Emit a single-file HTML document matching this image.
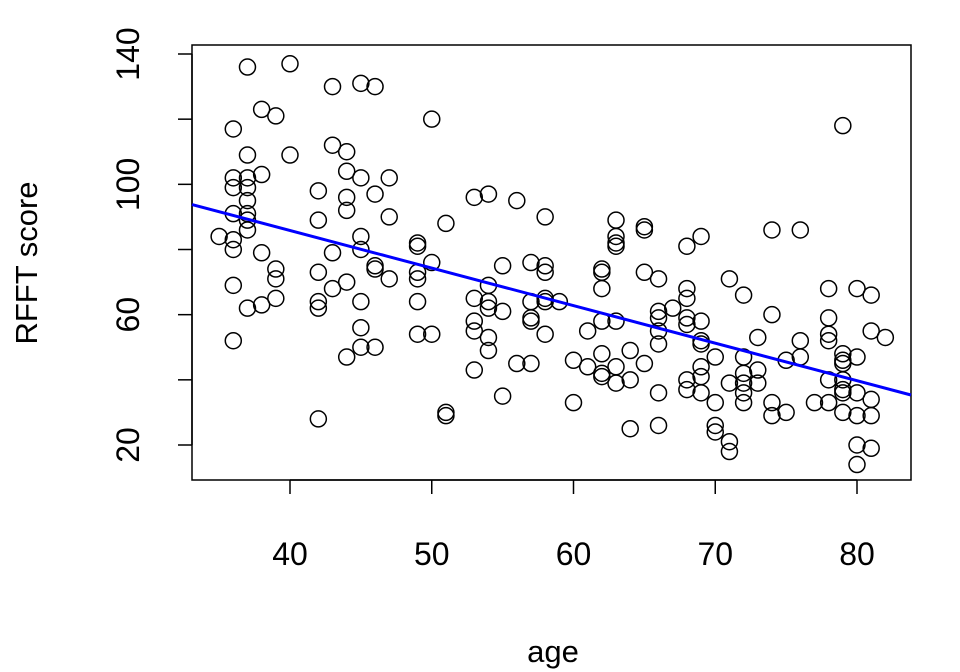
<!DOCTYPE html>
<html>
<head>
<meta charset="utf-8">
<style>
html,body{margin:0;padding:0;background:#fff;}
svg{display:block;font-family:"Liberation Sans",Arial,sans-serif;}
</style>
</head>
<body>
<svg id="chart" width="960" height="672" viewBox="0 0 960 672"></svg>
<script>
// Data: age (x) and RFFT score (y)
const ages = [35,
36,36,36,36,36,36,36,36,
37,37,37,37,37,37,37,37,37,
38,38,38,38,
39,39,39,39,
40,40,
42,42,42,42,42,42,
43,43,43,43,
44,44,44,44,44,44,
45,45,45,45,45,45,45,
46,46,46,46,46,
47,47,47,
49,49,49,49,49,49,
50,50,50,
51,51,51,
53,53,53,53,53,
54,54,54,54,54,54,
55,55,55,
56,56,
57,57,57,57,57,
58,58,58,58,58,58,
59,
60,60,
61,61,
62,62,62,62,62,62,62,
63,63,63,63,63,63,63,
64,64,64,
65,65,65,65,
66,66,66,66,66,66,66,
67,
68,68,68,68,68,68,68,
69,69,69,69,69,69,69,
70,70,70,70,
71,71,71,71,
72,72,72,72,72,72,
73,73,73,
74,74,74,74,
75,75,
76,76,76,
77,
78,78,78,78,78,78,
79,79,79,79,79,79,79,79,
80,80,80,80,80,80,
81,81,81,81,81,
82];
const scores = [84,
117,102,99,91,83,80,69,52,
136,109,102,99,95,91,89,86,62,
123,103,79,63,
121,74,71,65,
137,109,
98,89,73,64,62,28,
130,112,79,68,
110,104,96,92,70,47,
131,102,84,80,64,56,50,
130,97,75,74,50,
102,71,90,
82,81,73,71,64,54,
120,76,54,
88,30,29,
96,65,58,55,43,
97,69,64,62,53,49,
75,61,35,
95,45,
76,64,59,58,45,
90,75,73,65,64,54,
64,
46,33,
55,44,
74,73,68,58,48,42,41,
89,84,82,81,58,44,39,
49,40,25,
87,86,73,45,
71,61,59,55,51,36,26,
62,
81,68,65,59,57,40,37,
84,58,52,51,44,41,36,
47,33,26,24,
71,39,21,18,
66,47,42,39,36,33,
53,43,39,
86,60,33,29,
46,30,
86,52,47,
33,
68,59,54,52,40,33,
118,48,46,45,40,37,36,30,
68,47,36,29,20,14,
66,55,34,29,19,
53];
const xTicks = [40,50,60,70,80];
const yTicks = [20,60,100,140];

const NS = "http://www.w3.org/2000/svg";
const svg = document.getElementById('chart');
const plot = {l:192, r:911, t:45, b:480};
function xScale(v){ return 290 + (v-40)*(857-290)/40; }
function yScale(v){ return 445 - (v-20)*(445-54)/120; }
function mk(tag, attrs){
  const e = document.createElementNS(NS, tag);
  for (const k in attrs) e.setAttribute(k, attrs[k]);
  svg.appendChild(e);
  return e;
}

const box = mk('rect', {x:plot.l, y:plot.t, width:plot.r-plot.l, height:plot.b-plot.t, fill:'none', stroke:'#000', 'stroke-width':1.5});



const xAxis = mk('line', {x1:xScale(xTicks[0]), x2:xScale(xTicks[xTicks.length-1]), y1:plot.b, y2:plot.b, stroke:'#000', 'stroke-width':1.5});


xTicks.forEach(t=>{
  const x = xScale(t);
  const tk = mk('line', {x1:x, x2:x, y1:plot.b, y2:plot.b+14, stroke:'#000', 'stroke-width':1.5});
  
  
  const lb = mk('text', {x:x, y:565, 'text-anchor':'middle', 'font-size':32, fill:'#000'});
  lb.textContent = t;
  
  
});

const yAxis = mk('line', {x1:plot.l, x2:plot.l, y1:yScale(yTicks[0]), y2:yScale(yTicks[yTicks.length-1]), stroke:'#000', 'stroke-width':1.5});


[20,40,60,80,100,120,140].forEach(t=>{
  const y = yScale(t);
  const tk = mk('line', {x1:plot.l-14, x2:plot.l, y1:y, y2:y, stroke:'#000', 'stroke-width':1.5});
  
  
});
yTicks.forEach(t=>{
  const y = yScale(t);
  const lb = mk('text', {x:139, y:y, 'text-anchor':'middle', 'font-size':32, fill:'#000', transform:`rotate(-90 139 ${y})`});
  lb.textContent = t;
  
  
});

const xt = mk('text', {x:553, y:662, 'text-anchor':'middle', 'font-size':31, fill:'#000'});
xt.textContent = 'age';


const yt = mk('text', {x:37, y:263, 'text-anchor':'middle', 'font-size':31, fill:'#000', transform:'rotate(-90 37 263)'});
yt.textContent = 'RFFT score';



ages.forEach((a,i)=>{
  const c = mk('circle', {cx:xScale(a), cy:yScale(scores[i]), r:8, fill:'none', stroke:'#000', 'stroke-width':1.5});
  
  
});

const n = ages.length;
const mx = ages.reduce((s,v)=>s+v,0)/n;
const my = scores.reduce((s,v)=>s+v,0)/n;
let sxy=0, sxx=0;
for (let i=0;i<n;i++){ sxy += (ages[i]-mx)*(scores[i]-my); sxx += (ages[i]-mx)**2; }
const slope = sxy/sxx, icpt = my - slope*mx;
const ax0 = 40 + (plot.l-290)*40/(857-290);
const ax1 = 40 + (plot.r-290)*40/(857-290);
const rl = mk('line', {x1:xScale(ax0), y1:yScale(icpt+slope*ax0), x2:xScale(ax1), y2:yScale(icpt+slope*ax1), stroke:'#0000FF', 'stroke-width':3});


</script>
</body>
</html>
